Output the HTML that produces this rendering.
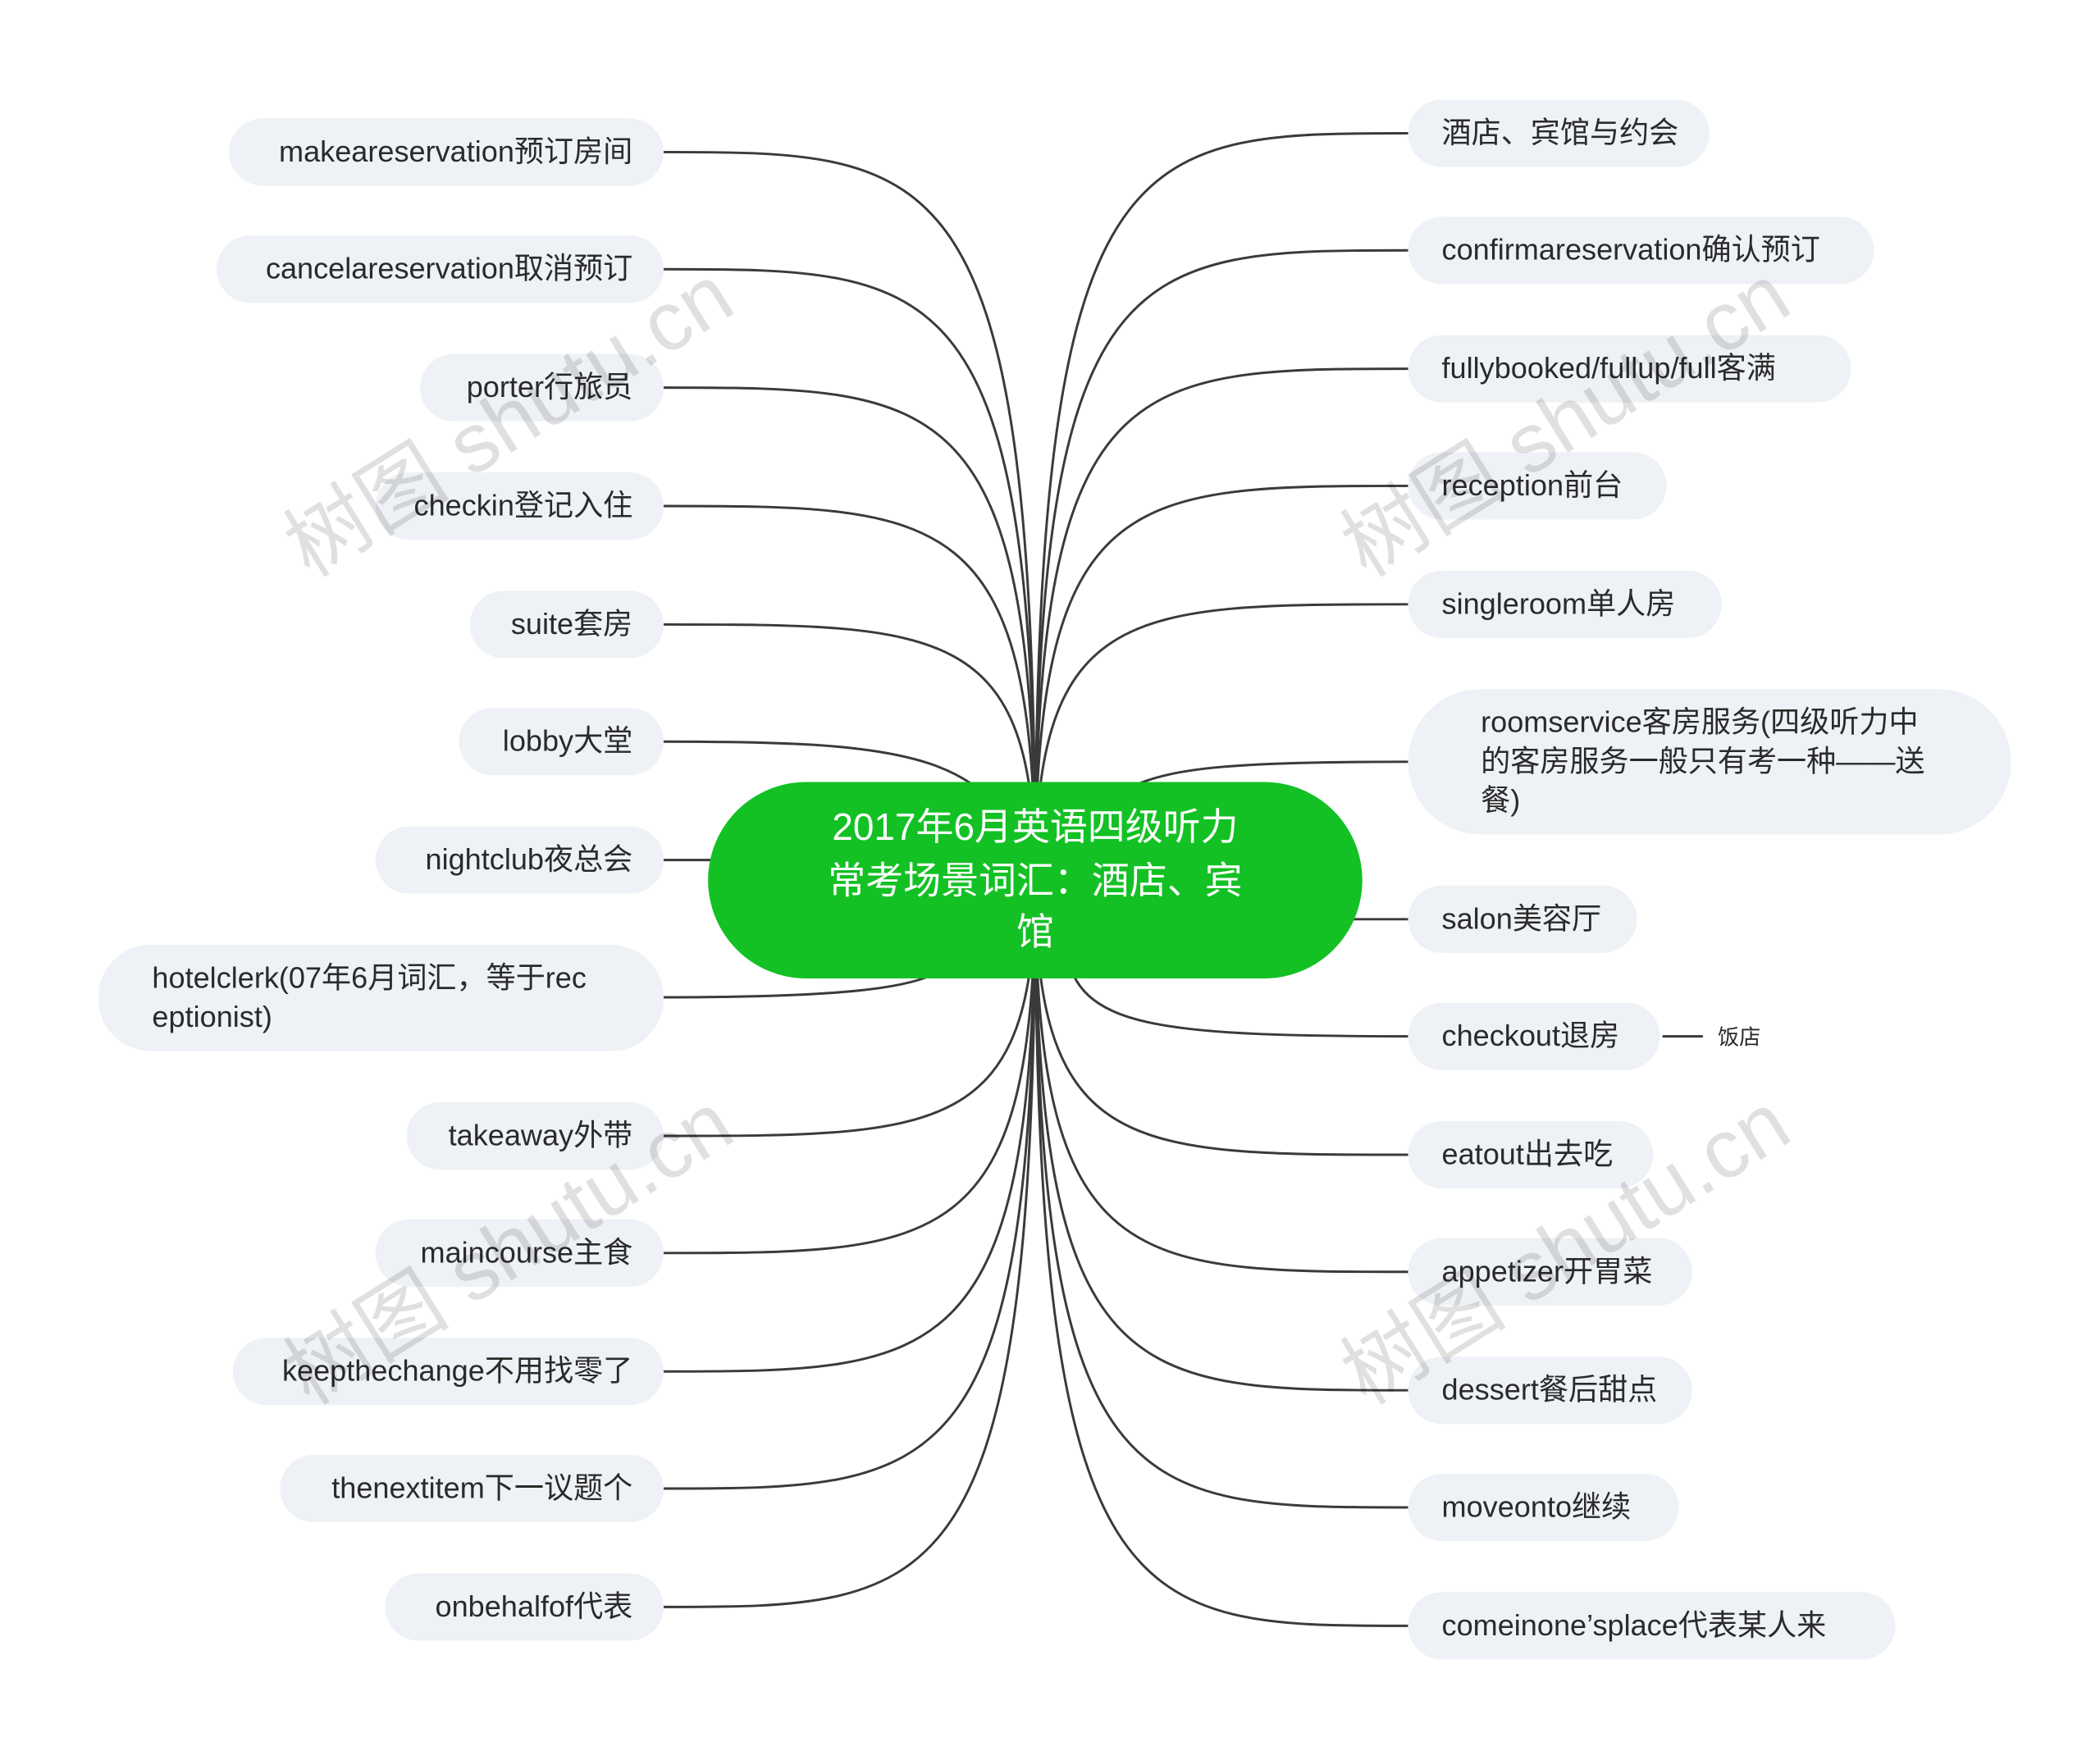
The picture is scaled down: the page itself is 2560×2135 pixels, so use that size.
<!DOCTYPE html>
<html><head><meta charset="utf-8"><style>
html,body{margin:0;padding:0;background:#fff;}
svg{display:block;}
text{font-family:"Liberation Sans","Noto Sans CJK SC",sans-serif;}
</style></head><body>
<svg width="2560" height="2135" viewBox="0 0 1560 1301" xmlns="http://www.w3.org/2000/svg">
<rect width="1560" height="1301" fill="#fff"/>
<g fill="none" stroke="#3a3a3a" stroke-width="1.8">
<path d="M493,113 C700,113 769,113 769,654"/>
<path d="M493,200 C700,200 769,200 769,654"/>
<path d="M493,288 C700,288 769,288 769,654"/>
<path d="M493,376 C700,376 769,376 769,654"/>
<path d="M493,464 C700,464 769,464 769,654"/>
<path d="M493,551 C680,551 740,560 769,654"/>
<path d="M493,639 L560,639"/>
<path d="M493,741 C620,741 680,735 700,720"/>
<path d="M493,844 C700,844 769,844 769,654"/>
<path d="M493,931 C700,931 769,931 769,654"/>
<path d="M493,1019 C700,1019 769,1019 769,654"/>
<path d="M493,1106 C700,1106 769,1106 769,654"/>
<path d="M493,1194 C700,1194 769,1194 769,654"/>
<path d="M1046,99 C840,99 769,99 769,654"/>
<path d="M1046,186 C840,186 769,186 769,654"/>
<path d="M1046,274 C840,274 769,274 769,654"/>
<path d="M1046,361 C840,361 769,361 769,654"/>
<path d="M1046,449 C840,449 769,449 769,654"/>
<path d="M1046,566 C920,566 870,570 840,585"/>
<path d="M1046,683 L990,683"/>
<path d="M1046,770 C840,770 800,760 790,700"/>
<path d="M1046,858 C840,858 769,858 769,654"/>
<path d="M1046,945 C840,945 769,945 769,654"/>
<path d="M1046,1033 C840,1033 769,1033 769,654"/>
<path d="M1046,1120 C840,1120 769,1120 769,654"/>
<path d="M1046,1208 C840,1208 769,1208 769,654"/>
<path d="M1235,770 L1265,770"/>
</g>
<g fill="#eef1f5">
<rect x="170" y="88" width="323" height="50" rx="25"/>
<rect x="161" y="175" width="332" height="50" rx="25"/>
<rect x="312" y="263" width="181" height="50" rx="25"/>
<rect x="279" y="351" width="214" height="50" rx="25"/>
<rect x="349" y="439" width="144" height="50" rx="25"/>
<rect x="341" y="526" width="152" height="50" rx="25"/>
<rect x="279" y="614" width="214" height="50" rx="25"/>
<rect x="73" y="702" width="420" height="79" rx="39"/>
<rect x="302" y="819" width="191" height="50" rx="25"/>
<rect x="279" y="906" width="214" height="50" rx="25"/>
<rect x="173" y="994" width="320" height="50" rx="25"/>
<rect x="208" y="1081" width="285" height="50" rx="25"/>
<rect x="286" y="1169" width="207" height="50" rx="25"/>
<rect x="1046" y="74" width="224" height="50" rx="25"/>
<rect x="1046" y="161" width="346" height="50" rx="25"/>
<rect x="1046" y="249" width="329" height="50" rx="25"/>
<rect x="1046" y="336" width="192" height="50" rx="25"/>
<rect x="1046" y="424" width="233" height="50" rx="25"/>
<rect x="1046" y="512" width="448" height="108" rx="54"/>
<rect x="1046" y="658" width="170" height="50" rx="25"/>
<rect x="1046" y="745" width="187" height="50" rx="25"/>
<rect x="1046" y="833" width="182" height="50" rx="25"/>
<rect x="1046" y="920" width="211" height="50" rx="25"/>
<rect x="1046" y="1008" width="211" height="50" rx="25"/>
<rect x="1046" y="1095" width="201" height="50" rx="25"/>
<rect x="1046" y="1183" width="362" height="50" rx="25"/>
</g>
<rect x="526" y="581" width="486" height="146" rx="73" fill="#13c124"/>
<g fill="#fff" font-size="28" text-anchor="middle">
<text x="769" y="624">2017年6月英语四级听力</text>
<text x="769" y="664">常考场景词汇：酒店、宾</text>
<text x="769" y="702">馆</text>
</g>
<g fill="#2a2a2a" font-size="22" text-anchor="end">
<text x="470" y="120">makeareservation预订房间</text>
<text x="470" y="207">cancelareservation取消预订</text>
<text x="470" y="295">porter行旅员</text>
<text x="470" y="383">checkin登记入住</text>
<text x="470" y="471">suite套房</text>
<text x="470" y="558">lobby大堂</text>
<text x="470" y="646">nightclub夜总会</text>
<text x="470" y="851">takeaway外带</text>
<text x="470" y="938">maincourse主食</text>
<text x="470" y="1026">keepthechange不用找零了</text>
<text x="470" y="1113">thenextitem下一议题个</text>
<text x="470" y="1201">onbehalfof代表</text>
</g>
<g fill="#2a2a2a" font-size="22">
<text x="113" y="734">hotelclerk(07年6月词汇，等于rec</text>
<text x="113" y="763">eptionist)</text>
<text x="1071" y="106">酒店、宾馆与约会</text>
<text x="1071" y="193">confirmareservation确认预订</text>
<text x="1071" y="281">fullybooked/fullup/full客满</text>
<text x="1071" y="368">reception前台</text>
<text x="1071" y="456">singleroom单人房</text>
<text x="1100" y="544">roomservice客房服务(四级听力中</text>
<text x="1100" y="573">的客房服务一般只有考一种——送</text>
<text x="1100" y="602">餐)</text>
<text x="1071" y="690">salon美容厅</text>
<text x="1071" y="777">checkout退房</text>
<text x="1071" y="865">eatout出去吃</text>
<text x="1071" y="952">appetizer开胃菜</text>
<text x="1071" y="1040">dessert餐后甜点</text>
<text x="1071" y="1127">moveonto继续</text>
<text x="1071" y="1215">comeinone’splace代表某人来</text>
<text x="1276" y="776" font-size="16">饭店</text>
</g>
<g fill="rgba(0,0,0,0.12)" font-size="62" font-family="Liberation Serif,Noto Serif CJK SC,serif">
<text transform="translate(230,430) rotate(-32)">树图 shutu.cn</text>
<text transform="translate(1015,430) rotate(-32)">树图 shutu.cn</text>
<text transform="translate(230,1045) rotate(-32)">树图 shutu.cn</text>
<text transform="translate(1015,1045) rotate(-32)">树图 shutu.cn</text>
</g>
</svg>
</body></html>
